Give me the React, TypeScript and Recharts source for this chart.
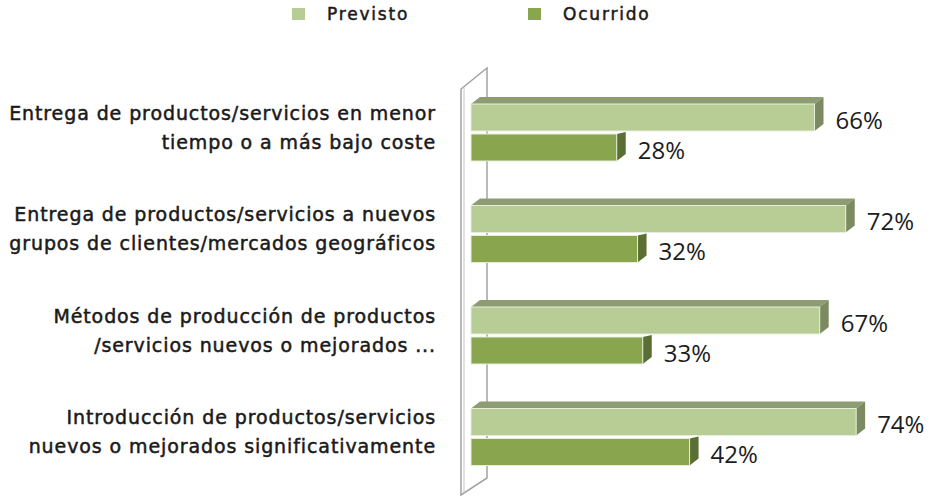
import React from "react"
import { BarChart, Bar, XAxis, YAxis, LabelList } from "recharts"

const categoryLines = [
  ["Entrega de productos/servicios en menor", "tiempo o a más bajo coste"],
  ["Entrega de productos/servicios a nuevos", "grupos de clientes/mercados geográficos"],
  ["Métodos de producción de productos", "/servicios nuevos  o mejorados ..."],
  ["Introducción de productos/servicios", "nuevos o mejorados significativamente"],
]
const previsto = [66, 72, 67, 74]
const ocurrido = [28, 32, 33, 42]
const seriesNames = ["Previsto", "Ocurrido"]

const data = categoryLines.map((lines, i) => ({
  name: lines.join("\n"),
  previsto: previsto[i],
  ocurrido: ocurrido[i],
}))

const COLORS = {
  previsto: { front: "#b8cc96", top: "#8e9c73", side: "#7b8a61" },
  ocurrido: { front: "#89a54d", top: "#6e8440", side: "#5b6e34" },
}

const DX = 9
const DY = 7

const makeShape = (key: "previsto" | "ocurrido") => (props: any) => {
  const { x, y, width, height } = props
  const c = COLORS[key]
  const r = x + width
  const b = y + height
  const topLift = key === "previsto" ? DY : 2
  return (
    <g>
      {key === "previsto" && (
        <polygon
          points={`${x},${y} ${x + DX},${y - DY} ${r + DX},${y - DY} ${r},${y}`}
          fill={c.top}
        />
      )}
      <polygon
        points={`${r},${y} ${r + DX},${y - topLift} ${r + DX},${b - DY} ${r},${b}`}
        fill={c.side}
      />
      <rect x={x} y={y} width={width} height={height} fill={c.front} stroke="#e6eedb" strokeWidth={1} />
    </g>
  )
}

const CategoryTick = (props: any) => {
  const { y, payload } = props
  const lines = String(payload.value).split("\n")
  return (
    <text
      x={436}
      y={y}
      textAnchor="end"
      fontFamily="DejaVu Sans"
      fontSize={19}
      letterSpacing={0.9}
      fill="#1a1a1a"
      stroke="#1a1a1a"
      strokeWidth={0.5}
    >
      <tspan x={436} dy={-13}>{lines[0]}</tspan>
      <tspan x={436} dy={29}>{lines[1]}</tspan>
    </text>
  )
}

const valueLabel = (props: any) => {
  const { x, y, width, height, value } = props
  return (
    <text
      x={x + width + 21}
      y={y + height / 2 + 11}
      fontFamily="Open Sans"
      fontSize={24}
      fill="#1c1c1c"
    >
      {value}%
    </text>
  )
}

export default function App() {
  const legendColors = [COLORS.previsto.front, COLORS.ocurrido.front]
  const legendX = [292, 528]
  return (
    <div style={{ position: "absolute", left: 0, top: 0, width: 936, height: 496, background: "#fff" }}>
      <svg width={936} height={496} style={{ position: "absolute", left: 0, top: 0 }}>
        <polygon points="461,89 487,68 487,478 461,495" fill="#fff" stroke="#a2a2a2" strokeWidth={1.5} />
        <line x1={464} y1={87} x2={464} y2={493} stroke="#c4c4c4" strokeWidth={1} />
      </svg>
      {seriesNames.map((name, i) => (
        <div
          key={name}
          style={{
            position: "absolute",
            left: legendX[i],
            top: 4,
            display: "flex",
            alignItems: "center",
            fontFamily: "DejaVu Sans",
            fontSize: 17,
            letterSpacing: 1.8,
            color: "#1a1a1a",
            WebkitTextStroke: "0.5px #1a1a1a",
          }}
        >
          <span style={{ display: "inline-block", width: 13, height: 12, background: legendColors[i], marginRight: 22 }} />
          <span>{name}</span>
        </div>
      ))}
      <div style={{ position: "absolute", left: 0, top: 0 }}>
        <BarChart
          width={936}
          height={496}
          data={data}
          layout="vertical"
          margin={{ top: 82, right: 7, bottom: 8, left: 0 }}
          barSize={27}
          barGap={3}
        >
          <XAxis type="number" domain={[0, 88]} hide />
          <YAxis
            type="category"
            dataKey="name"
            width={471}
            tickLine={false}
            axisLine={false}
            tick={<CategoryTick />}
            interval={0}
          />
          <Bar dataKey="previsto" name={seriesNames[0]} shape={makeShape("previsto")} isAnimationActive={false}>
            <LabelList dataKey="previsto" content={valueLabel} />
          </Bar>
          <Bar dataKey="ocurrido" name={seriesNames[1]} shape={makeShape("ocurrido")} isAnimationActive={false}>
            <LabelList dataKey="ocurrido" content={valueLabel} />
          </Bar>
        </BarChart>
      </div>
    </div>
  )
}
